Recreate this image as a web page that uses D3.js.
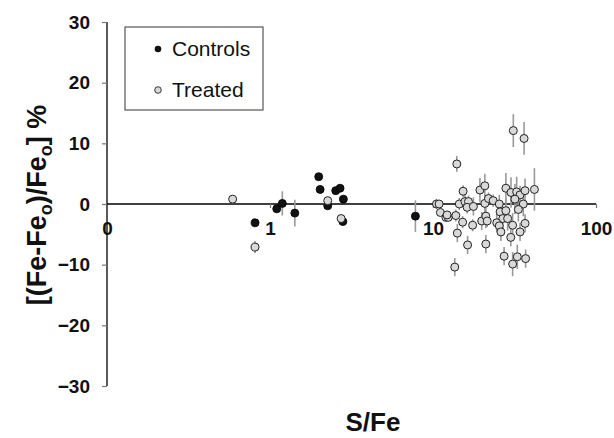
<!DOCTYPE html>
<html><head><meta charset="utf-8">
<script src="https://cdn.jsdelivr.net/npm/d3@7"></script>
<style>body{margin:0;background:#fff}svg{display:block}text{font-family:"Liberation Sans",Arial,sans-serif}</style>
</head><body>
<script>
const controlsX = [0.81,1.10,1.19,1.42,1.99,2.03,2.26,2.53,2.69,2.82,2.80,7.8];
const controlsY = [-3.1,-0.8,0.1,-1.5,4.5,2.4,-0.3,2.2,2.6,0.8,-2.9,-2.0];
const controlsErr = [0,0,2.0,2.2,0,0,0,0,0,0,0,2.6];

const treatedX = [0.59,0.81,2.26,2.73,31.1,36.2,14.0,15.3,19.4,20.8,28.0,30.1,32.6,34.2,36.7,41.9,31.8,35.8,33.4,10.5,10.9,11.1,12.0,12.4,12.2,13.8,14.5,15.7,16.5,16.2,17.7,15.2,14.1,16.3,13.6,17.5,19.9,21.1,21.5,21.1,20.8,21.9,23.4,25.5,25.8,28.0,26.8,28.7,24.6,25.5,26.1,30.8,30.0,34.2,36.7,27.3,30.8,32.9,37.0];
const treatedY = [0.8,-7.1,0.55,-2.4,12.1,10.8,6.6,2.1,2.3,3.0,2.6,1.9,2.0,1.5,2.2,2.4,0.8,0.0,-0.9,0.0,0.0,-1.4,-2.2,-2.2,-1.8,-1.9,0.0,0.4,0.4,-0.55,-0.4,-3.0,-4.8,-6.75,-10.4,-3.5,-2.8,-2.0,-2.8,-6.6,0.1,0.9,0.55,0.0,-1.3,-1.1,-2.4,-2.4,-3.1,-3.6,-4.6,-3.5,-5.5,-4.6,-3.2,-8.6,-9.9,-8.7,-9.0];
const treatedErr = [0.5,1.0,0.5,0.5,2.7,2.7,1.3,1.0,2.0,2.0,2.5,2.5,2.5,1.5,2.0,3.5,2.5,2.0,2.0,0.8,0.5,0.5,0.5,0.5,0.5,1.0,1.0,1.5,1.0,1.0,1.5,1.0,1.5,1.5,1.5,1.0,1.5,2.0,1.0,1.5,1.5,1.0,1.0,1.5,1.5,2.0,2.0,2.0,1.5,1.0,1.5,2.0,1.5,1.5,1.5,1.5,2.0,2.0,1.5];

const xTicks = [0.1,1,10,100];
const xTickLabels = ["0","1","10","100"];
const yTicks = [-30,-20,-10,0,10,20,30];

const W=614,H=438;
const svg=d3.select("body").append("svg").attr("width",W).attr("height",H);
const x=d3.scaleLog().domain([0.1,100]).range([107,596]);
const y=d3.scaleLinear().domain([-30,30]).range([386,22]);

// y axis
const yAxis=d3.axisLeft(y).tickValues(yTicks).tickSize(5).tickPadding(12);
const gy=svg.append("g").attr("transform",`translate(${x(0.1)},0)`).call(yAxis);
gy.select(".domain").attr("stroke","#000").attr("stroke-width",1.3).attr("d",`M0,${y(30)}V${y(-30)}`);
gy.selectAll(".tick line").attr("stroke","#777").attr("stroke-width",1.2);
gy.selectAll(".tick text").attr("font-size",19).attr("font-weight","bold").attr("fill","#111").attr("font-family","Liberation Sans, Arial, sans-serif");

// x axis at y=0
const xAxis=d3.axisBottom(x).tickValues(xTicks).tickSize(4).tickFormat((d,i)=>xTickLabels[i]).tickPadding(14);
const gx=svg.append("g").attr("transform",`translate(0,${y(0)})`).call(xAxis);
gx.select(".domain").attr("stroke","#000").attr("stroke-width",1.3).attr("d",`M${x(0.1)},0H${x(100)}`);
gx.selectAll(".tick line").attr("stroke","#777").attr("stroke-width",1.2);
gx.selectAll(".tick text").attr("font-size",19).attr("font-weight","bold").attr("fill","#111").attr("font-family","Liberation Sans, Arial, sans-serif");
gx.selectAll(".tick").filter(d=>d===0.1).select("line").remove();

const controls=controlsX.map((v,i)=>({x:v,y:controlsY[i],e:controlsErr[i]}));
const treated=treatedX.map((v,i)=>({x:v,y:treatedY[i],e:treatedErr[i]}));

// error bars
svg.append("g").selectAll("line").data(controls.concat(treated).filter(d=>d.e>0)).join("line")
  .attr("x1",d=>x(d.x)).attr("x2",d=>x(d.x))
  .attr("y1",d=>y(d.y+d.e)).attr("y2",d=>y(d.y-d.e))
  .attr("stroke","#999").attr("stroke-width",1.6);

svg.append("g").selectAll("circle").data(controls).join("circle")
  .attr("cx",d=>x(d.x)).attr("cy",d=>y(d.y)).attr("r",4)
  .attr("fill","#111").attr("stroke","#000").attr("stroke-width",0.8);
svg.append("g").selectAll("circle").data(treated).join("circle")
  .attr("cx",d=>x(d.x)).attr("cy",d=>y(d.y)).attr("r",4)
  .attr("fill","#d9d9d9").attr("stroke","#222").attr("stroke-width",1);

// legend
const lg=svg.append("g");
lg.append("rect").attr("x",125).attr("y",27).attr("width",138).attr("height",83)
  .attr("fill","#fff").attr("stroke","#555").attr("stroke-width",1.2);
lg.append("circle").attr("cx",158).attr("cy",49).attr("r",3.3).attr("fill","#111");
lg.append("text").attr("x",172).attr("y",56).attr("font-size",21).attr("fill","#111").text("Controls");
lg.append("circle").attr("cx",158).attr("cy",90).attr("r",3.3).attr("fill","#d9d9d9").attr("stroke","#222").attr("stroke-width",0.9);
lg.append("text").attr("x",172).attr("y",97).attr("font-size",21).attr("fill","#111").text("Treated");

// axis titles
svg.append("text").attr("x",373).attr("y",431).attr("text-anchor","middle")
  .attr("font-size",26).attr("font-weight","bold").attr("fill","#111").text("S/Fe");
const yt=svg.append("text").attr("transform","translate(46,205) rotate(-90)").attr("text-anchor","middle")
  .attr("font-size",27).attr("font-weight","bold").attr("fill","#111");
yt.append("tspan").text("[(Fe-Fe");
yt.append("tspan").attr("font-size",18).attr("dy",6).text("o");
yt.append("tspan").attr("dy",-6).text(")/Fe");
yt.append("tspan").attr("font-size",18).attr("dy",6).text("o");
yt.append("tspan").attr("dy",-6).text("] %");
</script>
</body></html>
